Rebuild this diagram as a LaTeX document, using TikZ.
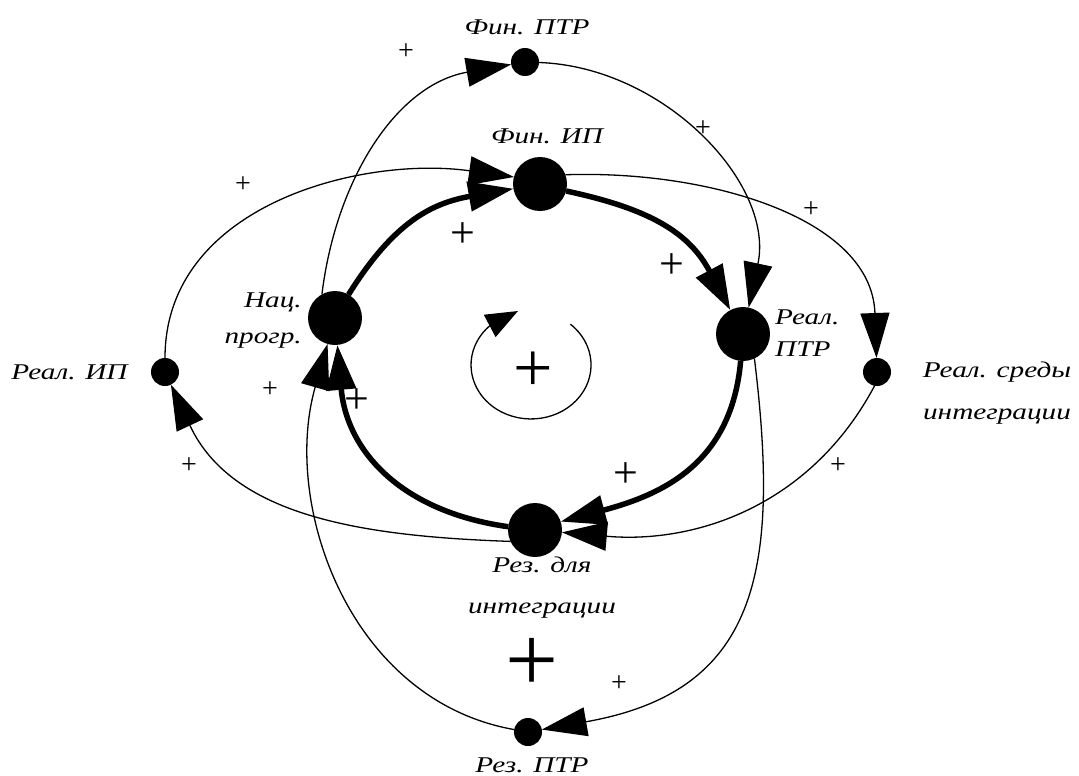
\documentclass[tikz,border=0pt]{standalone}
\usepackage{fontspec}
\setmainfont{Liberation Serif}
\usepackage{graphicx}
\usetikzlibrary{arrows.meta}
\newcommand\sx[1]{\scalebox{1.3}[1]{#1}}
\begin{document}
\begin{tikzpicture}[x=1pt,y=1pt,
  big/.style={circle,fill=black,minimum size=54pt,inner sep=0pt,outer sep=0pt},
  small/.style={circle,fill=black,minimum size=28pt,inner sep=0pt,outer sep=0pt},
  lab/.style={font=\fontsize{22.5}{27}\selectfont\itshape,inner sep=0pt},
  pls/.style={inner sep=0pt,font=\fontsize{28}{28}\selectfont},
  plm/.style={inner sep=0pt,font=\fontsize{44}{44}\selectfont},
  tipbig/.style={-{Triangle[length=45pt,width=29pt]}},
  thinlink/.style={line width=1.3pt,tipbig},
  thicklink/.style={line width=5.5pt,tipbig},
]
\useasboundingbox (0,0) rectangle (1079,-776);

% nodes
\node[small] (FP) at (525,-62) {};
\node[big]   (FI) at (540,-184) {};
\node[big]   (NP) at (335,-318) {};
\node[big]   (RP) at (743,-334) {};
\node[small] (RI) at (165,-372) {};
\node[small] (RS) at (877,-372) {};
\node[big]   (RZ) at (535,-530) {};
\node[small] (RT) at (528,-732) {};

% thin outer loops
\draw[thinlink] (NP.119) to[out=83,in=190] (FP);
\draw[thinlink] (FP) to[out=-2,in=78] (RP);
\draw[thinlink] (RP.-65) to[out=-83,in=10,looseness=1.3] (RT);
\draw[thinlink] (RT) to[out=170,in=-106] (NP);
\draw[thinlink] (RI) to[out=90,in=172] (FI.165);
\draw[thinlink] (FI.20) to[out=2,in=92] (RS);
\draw[thinlink] (RS.-100) to[out=-118,in=-5] (RZ);
\draw[thinlink] (RZ.205) to[out=178,in=-65] (RI);

% thick inner loop
\draw[thicklink] (NP.60) to[out=58,in=190,looseness=1.1] (FI);
\draw[thicklink] (FI.-15) to[out=-12,in=118,looseness=1.1] (RP);
\draw[thicklink] (RP.-95) to[out=-95,in=15,looseness=1.1] (RZ.18);
\draw[thicklink] (RZ.173) to[out=172,in=-85,looseness=1.1] (NP);

% loop symbol
\coordinate (c0) at (531,-365);
\draw[line width=1.3pt,-{Triangle[length=32pt,width=25pt]}]
  (570.4,-324.2) arc[start angle=49,end angle=-226,x radius=60,y radius=54] -- (518,-311);

% plus signs
\node[pls] (p1) at (406,-52) {+};
\node[pls] (p2) at (703,-129) {+};
\node[pls] (p3) at (243,-185) {+};
\node[pls] (p4) at (811,-210) {+};
\node[pls] (p5) at (270,-390) {+};
\node[pls] (p6) at (189,-466) {+};
\node[pls] (p7) at (838,-466) {+};
\node[pls] (p8) at (619,-684) {+};
\node[plm] (p9) at (463,-235) {+};
\node[plm] (p10) at (672,-266) {+};
\node[plm] (p11) at (357,-401) {+};
\node[plm] (p12) at (626,-475) {+};
\node[inner sep=0pt,font=\fontsize{70}{70}\selectfont] (p13) at (533,-372) {+};
\node[inner sep=0pt,font=\fontsize{94}{94}\selectfont] (p14) at (532,-665) {+};

% labels
\node[lab,anchor=base] (lFP) at (527,-35) {\sx{Фин. ПТР}};
\node[lab,anchor=base] (lFI) at (547,-143) {\sx{Фин. ИП}};
\node[lab,anchor=base east] (lNP) at (302,-307) {\sx{\begin{tabular}[t]{@{}r@{}}Нац.\\[9pt]прогр.\end{tabular}}};
\node[lab,anchor=base west] (lRP) at (775,-324) {\sx{\begin{tabular}[t]{@{}l@{}}Реал.\\[5pt]ПТР\end{tabular}}};
\node[lab,anchor=base] (lRI) at (69.5,-379) {\sx{Реал. ИП}};
\node[lab,anchor=base] (lRS) at (997,-377) {\sx{\begin{tabular}[t]{@{}c@{}}Реал. среды\\[15pt]интеграции\end{tabular}}};
\node[lab,anchor=base] (lRZ) at (542,-572) {\sx{\begin{tabular}[t]{@{}c@{}}Рез. для\\[14pt]интеграции\end{tabular}}};
\node[lab,anchor=base] (lRT) at (532,-772) {\sx{Рез. ПТР}};
\end{tikzpicture}
\end{document}
